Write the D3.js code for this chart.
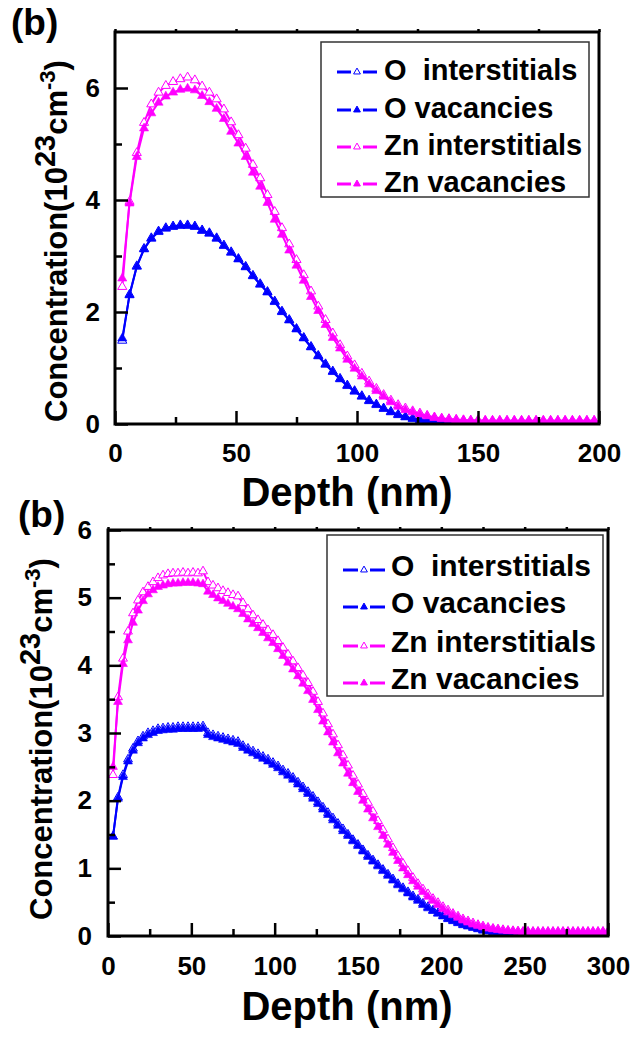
<!DOCTYPE html>
<html><head><meta charset="utf-8">
<script src="https://cdn.jsdelivr.net/npm/d3@7"></script>
<style>
body{margin:0;background:#fff}
svg{display:block}
text{font-family:"Liberation Sans",Arial,sans-serif;font-weight:bold;fill:#000}
</style>
</head><body>
<svg id="chart" width="633" height="1037"></svg>
<script>
// ---------- DATA ----------
const seriesNames = ["O  interstitials", "O vacancies", "Zn interstitials", "Zn vacancies"];
const seriesColors = ["#0000ff", "#0000ff", "#ff00ff", "#ff00ff"];
const seriesOpen = [true, false, true, false];

const xTicksTop = [0, 50, 100, 150, 200];
const yTicksTop = [0, 2, 4, 6];
const xTicksBot = [0, 50, 100, 150, 200, 250, 300];
const yTicksBot = [0, 1, 2, 3, 4, 5, 6];

// Panel 1 (depth 3..198 nm)
const depthTop = [3,6,9,12,15,18,21,24,27,30,33,36,39,42,45,48,51,54,57,60,63,66,69,72,75,78,81,84,87,90,93,96,99,102,105,108,111,114,117,120,123,126,129,132,135,138,141,144,147,150,153,156,159,162,165,168,171,174,177,180,183,186,189,192,195,198];
const topOInt = [1.49,2.31,2.82,3.13,3.32,3.44,3.50,3.53,3.55,3.55,3.53,3.46,3.41,3.32,3.19,3.07,2.95,2.81,2.65,2.50,2.36,2.19,2.01,1.86,1.70,1.54,1.38,1.22,1.07,0.94,0.81,0.69,0.59,0.50,0.42,0.35,0.28,0.22,0.17,0.13,0.10,0.08,0.06,0.045,0.035,0.025,0.02,0.015,0.01,0.01,0,0,0,0,0,0,0,0,0,0,0,0,0,0,0,0];
const topOVac = [1.53,2.30,2.81,3.12,3.31,3.43,3.49,3.52,3.54,3.54,3.52,3.45,3.40,3.31,3.18,3.06,2.94,2.80,2.64,2.49,2.35,2.18,2.00,1.85,1.69,1.53,1.37,1.21,1.06,0.93,0.80,0.68,0.58,0.49,0.41,0.34,0.27,0.21,0.16,0.12,0.09,0.07,0.055,0.04,0.03,0.02,0.015,0.01,0.01,0.01,0,0,0,0,0,0,0,0,0,0,0,0,0,0,0,0];
const topZnInt = [2.45,3.97,4.84,5.38,5.71,5.92,6.04,6.11,6.16,6.19,6.14,6.03,5.92,5.80,5.62,5.39,5.16,4.92,4.63,4.39,4.09,3.79,3.50,3.21,2.93,2.66,2.37,2.10,1.86,1.62,1.41,1.21,1.05,0.90,0.76,0.63,0.52,0.42,0.34,0.28,0.23,0.19,0.15,0.12,0.10,0.09,0.08,0.07,0.065,0.065,0.06,0.06,0.06,0.06,0.06,0.06,0.06,0.06,0.06,0.06,0.06,0.06,0.06,0.06,0.06,0.06];
const topZnVac = [2.60,3.94,4.77,5.28,5.55,5.74,5.85,5.92,5.97,5.99,5.96,5.86,5.75,5.63,5.45,5.22,5.01,4.77,4.49,4.24,3.95,3.65,3.38,3.10,2.83,2.56,2.27,2.02,1.77,1.54,1.35,1.15,0.99,0.85,0.71,0.59,0.49,0.39,0.31,0.25,0.21,0.17,0.14,0.11,0.09,0.08,0.07,0.065,0.06,0.06,0.06,0.06,0.06,0.06,0.06,0.06,0.06,0.06,0.06,0.06,0.06,0.06,0.06,0.06,0.06,0.06];

// Panel 2 (depth 3..300 nm)
const depthBot = [3,6,9,12,15,18,21,24,27,30,33,36,39,42,45,48,51,54,57,60,63,66,69,72,75,78,81,84,87,90,93,96,99,102,105,108,111,114,117,120,123,126,129,132,135,138,141,144,147,150,153,156,159,162,165,168,171,174,177,180,183,186,189,192,195,198,201,204,207,210,213,216,219,222,225,228,231,234,237,240,243,246,249,252,255,258,261,264,267,270,273,276,279,282,285,288,291,294,297,300];
const botOInt = [1.47,2.05,2.38,2.61,2.77,2.88,2.95,3.00,3.03,3.06,3.07,3.08,3.08,3.09,3.09,3.09,3.09,3.09,3.10,3.00,2.97,2.95,2.93,2.91,2.89,2.87,2.81,2.77,2.73,2.69,2.65,2.61,2.56,2.51,2.45,2.40,2.34,2.27,2.20,2.13,2.06,1.98,1.90,1.82,1.74,1.66,1.58,1.50,1.42,1.35,1.27,1.19,1.12,1.05,0.98,0.91,0.84,0.77,0.71,0.65,0.59,0.54,0.48,0.43,0.38,0.34,0.30,0.26,0.23,0.20,0.17,0.15,0.13,0.11,0.09,0.08,0.065,0.055,0.045,0.035,0.03,0.02,0.015,0.01,0.01,0.01,0.01,0.01,0.01,0.01,0.01,0.01,0.01,0.01,0.01,0.01,0.01,0.01,0.01,0.01];
const botOVac = [1.47,2.03,2.35,2.58,2.74,2.85,2.92,2.97,3.00,3.03,3.04,3.05,3.05,3.06,3.06,3.06,3.06,3.06,3.07,2.97,2.94,2.92,2.90,2.88,2.86,2.84,2.78,2.74,2.70,2.66,2.62,2.58,2.53,2.48,2.42,2.37,2.31,2.24,2.17,2.10,2.03,1.95,1.87,1.79,1.71,1.63,1.55,1.48,1.40,1.33,1.25,1.17,1.10,1.03,0.96,0.89,0.82,0.75,0.69,0.63,0.57,0.52,0.46,0.41,0.37,0.33,0.29,0.25,0.22,0.19,0.16,0.14,0.12,0.10,0.08,0.07,0.06,0.05,0.04,0.03,0.025,0.02,0.015,0.01,0.01,0.01,0.01,0.01,0.01,0.01,0.01,0.01,0.01,0.01,0.01,0.01,0.01,0.01,0.01,0.01];
const botZnInt = [2.38,3.53,4.10,4.50,4.77,4.96,5.08,5.16,5.23,5.29,5.33,5.35,5.36,5.36,5.37,5.36,5.37,5.36,5.39,5.23,5.18,5.14,5.10,5.07,5.04,5.02,4.92,4.83,4.74,4.67,4.60,4.52,4.45,4.36,4.26,4.16,4.06,3.96,3.85,3.74,3.61,3.46,3.29,3.13,2.98,2.82,2.67,2.52,2.37,2.24,2.10,1.97,1.84,1.70,1.57,1.43,1.30,1.18,1.07,0.96,0.86,0.77,0.69,0.62,0.55,0.49,0.43,0.38,0.33,0.29,0.25,0.22,0.19,0.165,0.145,0.125,0.11,0.10,0.09,0.08,0.075,0.07,0.065,0.065,0.065,0.065,0.065,0.065,0.065,0.065,0.065,0.065,0.065,0.065,0.065,0.065,0.065,0.065,0.065,0.065];
const botZnVac = [2.50,3.46,4.02,4.37,4.63,4.81,4.95,5.05,5.11,5.16,5.18,5.20,5.21,5.21,5.22,5.22,5.22,5.21,5.20,5.09,5.04,4.99,4.95,4.91,4.87,4.83,4.76,4.68,4.61,4.55,4.48,4.40,4.33,4.24,4.14,4.04,3.94,3.84,3.73,3.62,3.49,3.34,3.17,3.01,2.86,2.70,2.55,2.40,2.26,2.13,2.00,1.87,1.74,1.61,1.48,1.35,1.23,1.11,1.00,0.90,0.81,0.73,0.65,0.58,0.52,0.46,0.40,0.35,0.31,0.27,0.23,0.20,0.17,0.15,0.13,0.11,0.10,0.09,0.08,0.075,0.07,0.065,0.06,0.06,0.06,0.06,0.06,0.06,0.06,0.06,0.06,0.06,0.06,0.06,0.06,0.06,0.06,0.06,0.06,0.06];

// ---------- DRAW ----------
const svg = d3.select("#chart");

function drawPanel(cfg) {
  const g = svg.append("g");
  const x = d3.scaleLinear().domain(cfg.xDomain).range([cfg.left, cfg.right]);
  const y = d3.scaleLinear().domain(cfg.yDomain).range([cfg.bottom, cfg.top]);
  const clipId = "clip" + cfg.id;
  svg.append("defs").append("clipPath").attr("id", clipId)
    .append("rect").attr("x", cfg.left).attr("y", cfg.top)
    .attr("width", cfg.right - cfg.left).attr("height", cfg.bottom - cfg.top);

  const plot = g.append("g").attr("clip-path", `url(#${clipId})`);
  const line = d3.line().x(d => x(d[0])).y(d => y(d[1]));
  const tri = d3.symbol().type(d3.symbolTriangle).size(cfg.markerSize);

  cfg.series.forEach((vals, i) => {
    const pts = cfg.depth.map((d, k) => [d, vals[k]]);
    const col = seriesColors[i];
    plot.append("path").datum(pts).attr("d", line)
      .attr("fill", "none").attr("stroke", col).attr("stroke-width", 2);
    plot.append("g").selectAll("path").data(pts).join("path")
      .attr("d", tri)
      .attr("transform", d => `translate(${x(d[0])},${y(d[1])})`)
      .attr("fill", seriesOpen[i] ? "#fff" : col)
      .attr("stroke", col).attr("stroke-width", seriesOpen[i] ? 1 : 0.6);
  });

  const styleAxis = sel => {
    sel.select(".domain").remove();
    sel.selectAll(".tick line").attr("stroke", "#000").attr("stroke-width", 2.5);
    sel.selectAll("text").style("font-size", cfg.tickFont + "px")
      .style("font-family", '"Liberation Sans",Arial,sans-serif').style("font-weight", "bold").attr("fill", "#000");
  };
  g.append("g").attr("transform", `translate(0,${cfg.bottom})`)
    .call(d3.axisBottom(x).tickValues(cfg.xMinor).tickSize(-7).tickFormat("")).call(styleAxis);
  g.append("g").attr("transform", `translate(0,${cfg.bottom})`)
    .call(d3.axisBottom(x).tickValues(cfg.xTicks).tickSize(-13).tickPadding(cfg.xPad).tickFormat(d3.format("d"))).call(styleAxis);
  g.append("g").attr("transform", `translate(${cfg.left},0)`)
    .call(d3.axisLeft(y).tickValues(cfg.yMinor).tickSize(-7).tickFormat("")).call(styleAxis);
  g.append("g").attr("transform", `translate(${cfg.left},0)`)
    .call(d3.axisLeft(y).tickValues(cfg.yTicks).tickSize(-13).tickPadding(cfg.yPad).tickFormat(d3.format("d"))).call(styleAxis);
  g.append("g").attr("transform", `translate(0,${cfg.top})`)
    .call(d3.axisTop(x).tickValues(cfg.xMinor.concat(cfg.xTicks)).tickSize(3).tickFormat("")).call(styleAxis);

  g.append("rect").attr("x", cfg.left).attr("y", cfg.top)
    .attr("width", cfg.right - cfg.left).attr("height", cfg.bottom - cfg.top)
    .attr("fill", "none").attr("stroke", "#000").attr("stroke-width", 3);

  g.append("text").attr("x", cfg.xTitleX).attr("y", cfg.xTitleY)
    .attr("text-anchor", "middle").style("font-size", "40px").text("Depth (nm)");
  const yt = g.append("text").attr("transform", `translate(${cfg.yTitleX},${cfg.yTitleY}) rotate(-90)`)
    .style("font-size", "31px");
  yt.append("tspan").text("Concentration(10");
  yt.append("tspan").attr("dy", -12).style("font-size", "29px").text("23");
  yt.append("tspan").attr("dy", 12).text("cm");
  yt.append("tspan").attr("dy", -12).style("font-size", "22px").text("-3");
  yt.append("tspan").attr("dy", 12).text(")");

  g.append("text").attr("x", cfg.labelX).attr("y", cfg.labelY)
    .style("font-size", "37px").text("(b)");

  const L = cfg.legend;
  g.append("rect").attr("x", L.x).attr("y", L.y).attr("width", L.w).attr("height", L.h)
    .attr("fill", "#fff").attr("stroke", "#333").attr("stroke-width", 1.5);
  const ltri = d3.symbol().type(d3.symbolTriangle).size(20);
  seriesNames.forEach((name, i) => {
    const yy = L.rows[i];
    const col = seriesColors[i];
    g.append("line").attr("x1", L.lx0).attr("x2", L.mx - 6).attr("y1", yy).attr("y2", yy)
      .attr("stroke", col).attr("stroke-width", 3);
    g.append("line").attr("x1", L.mx + 6).attr("x2", L.lx1).attr("y1", yy).attr("y2", yy)
      .attr("stroke", col).attr("stroke-width", 3);
    g.append("path").attr("d", ltri).attr("transform", `translate(${L.mx},${yy})`)
      .attr("fill", seriesOpen[i] ? "#fff" : col).attr("stroke", col).attr("stroke-width", 1);
    g.append("text").attr("x", L.tx).attr("y", yy + L.tdy)
      .style("font-size", L.font + "px").style("white-space", "pre").text(name);
  });
}

drawPanel({
  id: 1, left: 115, right: 599, top: 32, bottom: 424,
  xDomain: [0, 200], yDomain: [0, 7],
  xTicks: xTicksTop, yTicks: yTicksTop,
  xMinor: [25, 75, 125, 175], yMinor: [1, 3, 5],
  depth: depthTop, series: [topOInt, topOVac, topZnInt, topZnVac],
  markerSize: 36, tickFont: 26, xPad: 20, yPad: 15,
  xTitleX: 347, xTitleY: 506, yTitleX: 67, yTitleY: 422,
  labelX: 11, labelY: 35,
  legend: {x: 321, y: 42, w: 268, h: 155, rows: [72, 110, 147, 184], lx0: 337, lx1: 377, mx: 357, tx: 384, tdy: 8, font: 29}
});

drawPanel({
  id: 2, left: 108, right: 608, top: 530, bottom: 936,
  xDomain: [0, 300], yDomain: [0, 6],
  xTicks: xTicksBot, yTicks: yTicksBot,
  xMinor: [25, 75, 125, 175, 225, 275], yMinor: [0.5, 1.5, 2.5, 3.5, 4.5, 5.5],
  depth: depthBot, series: [botOInt, botOVac, botZnInt, botZnVac],
  markerSize: 34, tickFont: 26, xPad: 21, yPad: 16,
  xTitleX: 347, xTitleY: 1020, yTitleX: 52, yTitleY: 920,
  labelX: 18, labelY: 527,
  legend: {x: 327, y: 535, w: 276, h: 161, rows: [570, 607, 646, 683], lx0: 343, lx1: 385, mx: 364, tx: 391, tdy: 6, font: 30}
});
</script>
</body></html>
